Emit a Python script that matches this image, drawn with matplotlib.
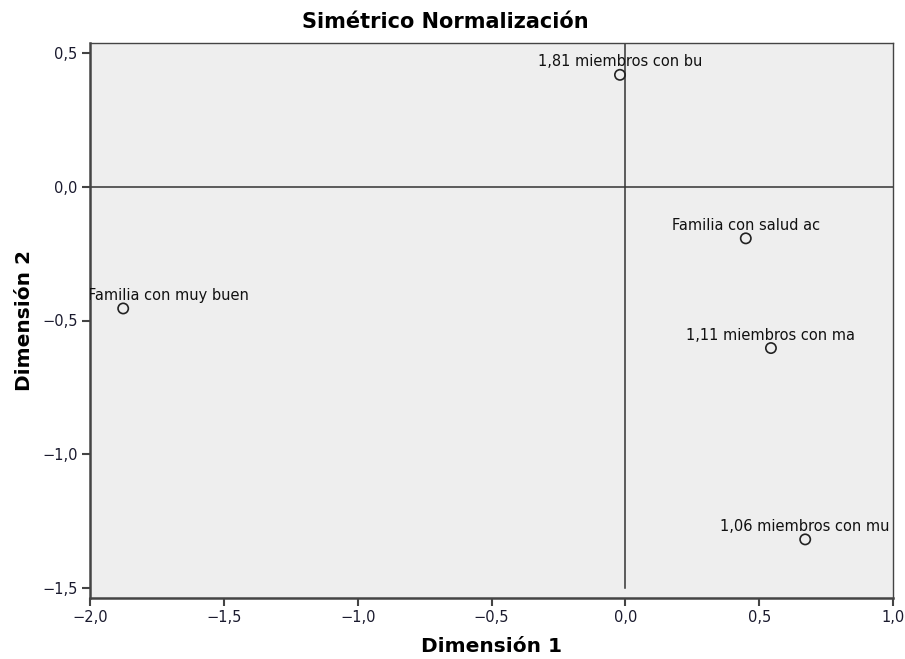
import matplotlib
matplotlib.use("Agg")
import matplotlib.pyplot as plt
from matplotlib.ticker import FuncFormatter

# coordinates
labels = ["1,81 miembros con bu", "Familia con salud ac", "Familia con muy buen",
          "1,11 miembros con ma", "1,06 miembros con mu"]
dim1 = [-0.02, 0.45, -1.876, 0.544, 0.672]
dim2 = [0.418, -0.193, -0.455, -0.603, -1.318]

xticks = [-2.0, -1.5, -1.0, -0.5, 0.0, 0.5, 1.0]
yticks = [0.5, 0.0, -0.5, -1.0, -1.5]


def comma_fmt(v, pos):
    s = f"{v:.1f}".replace(".", ",")
    return s.replace("-", "\u2212")


fig = plt.figure(figsize=(9.05, 6.59), dpi=100)
ax = fig.add_axes([90 / 905, 1 - 598 / 659, (893 - 90) / 905, (598 - 43) / 659])
ax.set_facecolor("#eeeeee")

ax.set_xlim(-2.0, 1.0)
ax.set_ylim(-1.537, 0.537)

# reference lines
ax.axhline(0, color="#333333", lw=1.1, zorder=1)
ax.plot([0, 0], [-1.5, 0.537], color="#333333", lw=1.1, zorder=1)

ax.scatter(dim1, dim2, s=55, facecolors="none", edgecolors="#222222", linewidths=1.2, zorder=3)
for lab, x, y in zip(labels, dim1, dim2):
    if x < -1.7:
        # SPSS pushes this label inside the plot area
        ax.annotate(lab, (x, y), xytext=(-25, 4), textcoords="offset points",
                    ha="left", va="bottom", fontsize=10.5, color="#111111",
                    annotation_clip=False, clip_on=True)
    else:
        ax.annotate(lab, (x, y), xytext=(0, 4), textcoords="offset points",
                    ha="center", va="bottom", fontsize=10.5, color="#111111",
                    annotation_clip=False, clip_on=True)

ax.set_xticks(xticks)
ax.set_yticks(yticks)
ax.xaxis.set_major_formatter(FuncFormatter(comma_fmt))
ax.yaxis.set_major_formatter(FuncFormatter(comma_fmt))
ax.tick_params(axis="both", direction="out", length=6, width=1.5, color="#444444",
               labelsize=10.5, labelcolor="#1a1a2e", pad=3)
for sp in ax.spines.values():
    sp.set_color("#444444")
    sp.set_linewidth(1.0)
ax.spines["left"].set_linewidth(1.8)
ax.spines["bottom"].set_linewidth(1.8)

ax.set_xlabel("Dimensión 1", fontsize=14.5, fontweight="bold", labelpad=8)
ax.set_ylabel("Dimensión 2", fontsize=14.5, fontweight="bold", labelpad=6)
fig.text(445 / 905, 1 - 22 / 659, "Simétrico Normalización", ha="center", va="center",
         fontsize=15, fontweight="bold")

fig.savefig("out.png", dpi=100)
